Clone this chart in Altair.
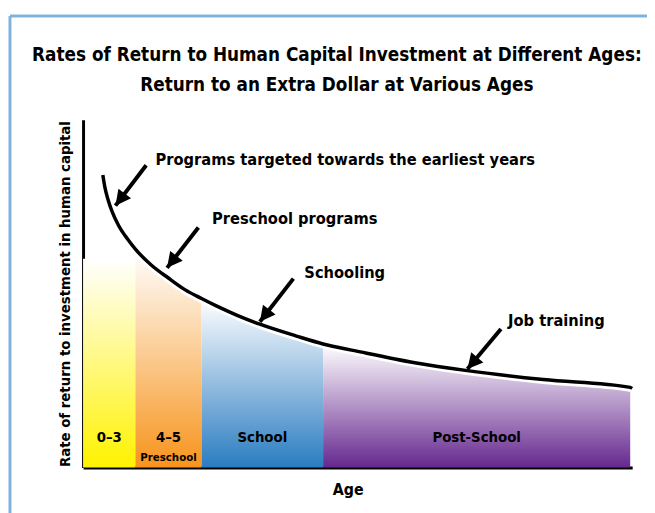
import altair as alt
import pandas as pd
import numpy as np

FONT = "Liberation Sans Narrow, Arial Narrow, DejaVu Sans Condensed, sans-serif"

# Curve: return to an extra dollar by age (x: age scale 0-100, y: rate 0-100)
curve_x = [3.60, 3.96, 4.50, 5.22, 6.47, 8.27, 9.53, 12.41, 15.47, 18.53, 21.58, 24.46, 28.06,
           32.19, 38.85, 43.71, 49.64, 60.43, 69.96, 83.81, 99.64, 100.0]
curve_y = [84.09, 80.68, 77.27, 73.86, 69.60, 65.34, 62.78, 58.24, 54.55, 51.14, 48.58, 46.31,
           43.75, 41.19, 37.78, 35.51, 33.52, 30.11, 27.84, 25.28, 23.01, 22.73]

# Age segments
seg_labels = ["0–3", "4–5", "School", "Post-School"]
seg_sub = ["", "Preschool", "", ""]
seg_start = [0.0, 9.53, 21.58, 43.71]
seg_end = [9.53, 21.58, 43.71, 99.64]
seg_top_first = 60.0  # flat top of the 0-3 block
seg_colors = ["#fff200", "#f7941d", "#2a7cc1", "#66288f"]
seg_top_colors = ["#ffffff", "#ffffff", "#ffffff", "#ffffff"]

# Titles
title_lines = ["Rates of Return to Human Capital Investment at Different Ages:",
               "Return to an Extra Dollar at Various Ages"]
x_title = "Age"
y_title = "Rate of return to investment in human capital"

# Annotations
ann_text = ["Programs targeted towards the earliest years", "Preschool programs",
            "Schooling", "Job training"]
ann_x = [13.2, 23.5, 40.3, 77.4]
ann_y = [88.4, 71.3, 56.0, 42.0]
arrow_tail_x = [11.5, 21.0, 38.3, 76.1]
arrow_tail_y = [86.9, 69.0, 54.3, 39.8]
arrow_tip_x = [5.9, 15.3, 32.2, 70.0]
arrow_tip_y = [75.3, 57.4, 41.9, 28.3]

W, H = 556, 352

xs = alt.Scale(domain=[0, 100], nice=False, zero=False)
ys = alt.Scale(domain=[0, 100], nice=False)

X = lambda f: alt.X(f, scale=xs, title=x_title)
Y = lambda f: alt.Y(f, scale=ys, title=y_title)

curve = pd.DataFrame({"x": curve_x, "y": curve_y})


def grad(top, bottom):
    return alt.LinearGradient(
        gradient="linear", x1=0, y1=0, x2=0, y2=1,
        stops=[alt.GradientStop(color=top, offset=0),
               alt.GradientStop(color=bottom, offset=1)])


layers = []
one = pd.DataFrame({"a": [0]})

# frame
layers.append(alt.Chart(one).mark_rule(color="#80b3dc", strokeWidth=3).encode(
    x=alt.value(-74), x2=alt.value(700), y=alt.value(-105)))
layers.append(alt.Chart(one).mark_rule(color="#80b3dc", strokeWidth=3).encode(
    x=alt.value(-74), y=alt.value(-105), y2=alt.value(600)))

# segment fills
first = pd.DataFrame({"x": [seg_start[0], seg_end[0]], "y": [seg_top_first, seg_top_first]})
layers.append(alt.Chart(first).mark_area(
    color=grad(seg_top_colors[0], seg_colors[0])).encode(x=X("x:Q"), y=Y("y:Q")))
for i in range(1, 4):
    layers.append(alt.Chart(curve).transform_filter(
        (alt.datum.x >= seg_start[i] - 1e-6) & (alt.datum.x <= seg_end[i] + 1e-6)
    ).mark_area(interpolate="monotone", color=grad(seg_top_colors[i], seg_colors[i])).encode(
        x=X("x:Q"), y=Y("y:Q")))

# curve with white halo
layers.append(alt.Chart(curve).mark_line(interpolate="monotone", color="white", strokeWidth=9).encode(
    x=X("x:Q"), y=Y("y:Q")))
layers.append(alt.Chart(curve).mark_line(interpolate="monotone", color="black", strokeWidth=3.5).encode(
    x=X("x:Q"), y=Y("y:Q")))

# segment labels
mids = [(a + b) / 2 for a, b in zip(seg_start, seg_end)]
seg_df = pd.DataFrame({"x": mids, "label": seg_labels, "sub": seg_sub})
layers.append(alt.Chart(seg_df).mark_text(font=FONT, fontWeight="bold", fontSize=15, color="black").encode(
    x=X("x:Q"), y=alt.datum(8.6), text="label:N"))
layers.append(alt.Chart(seg_df).mark_text(font=FONT, fontWeight="bold", fontSize=11.5, color="black").encode(
    x=X("x:Q"), y=alt.datum(2.7), text="sub:N"))

# arrows
arr = pd.DataFrame({"x": arrow_tail_x, "y": arrow_tail_y, "x2": arrow_tip_x, "y2": arrow_tip_y})
dxp = (np.array(arrow_tip_x) - np.array(arrow_tail_x)) * W / 100
dyp = -(np.array(arrow_tip_y) - np.array(arrow_tail_y)) * H / 100
arr["ang"] = (np.degrees(np.arctan2(dxp, -dyp)) + 360) % 360
layers.append(alt.Chart(arr).mark_rule(color="black", strokeWidth=4).encode(
    x=X("x:Q"), y=Y("y:Q"), x2="x2:Q", y2="y2:Q"))
layers.append(alt.Chart(arr).mark_point(shape="M0,0L-0.52,1L0.52,1Z", filled=True, size=960,
                                         color="black", opacity=1).encode(
    x=X("x2:Q"), y=Y("y2:Q"), angle=alt.Angle("ang:Q", scale=None)))

# annotation texts
ann = pd.DataFrame({"x": ann_x, "y": ann_y, "t": ann_text})
layers.append(alt.Chart(ann).mark_text(font=FONT, fontWeight="bold", fontSize=16.5, align="left",
                                        baseline="middle", color="black").encode(
    x=X("x:Q"), y=Y("y:Q"), text="t:N"))

# chart title (two lines)
tdf = pd.DataFrame({"t": title_lines, "line": [0, 1]})
for i in range(2):
    layers.append(alt.Chart(tdf).transform_filter(alt.datum.line == i).mark_text(
        font=FONT, fontWeight="bold", fontSize=19, align="center",
        baseline="middle", color="black").encode(
        x=alt.value(257), y=alt.value(-65 + 30 * i), text="t:N"))

chart = alt.layer(*layers).properties(
    width=W, height=H,
    autosize=alt.AutoSizeParams(type="none"),
    padding={"left": 76, "top": 110, "right": 15, "bottom": 43},
).configure_axisX(
    domainColor="black", domainWidth=3, ticks=False, labels=False, grid=False,
    titleFont=FONT, titleFontSize=16, titleFontWeight="bold", titleColor="black",
    titlePadding=14, titleX=268,
).configure_axisY(
    domainColor="black", domainWidth=3, ticks=False, labels=False, grid=False,
    titleFont=FONT, titleFontSize=15, titleFontWeight="bold", titleColor="black", titlePadding=11,
).configure_view(stroke=None)

chart.save("out.html", embed_options={"renderer": "svg", "actions": False})
